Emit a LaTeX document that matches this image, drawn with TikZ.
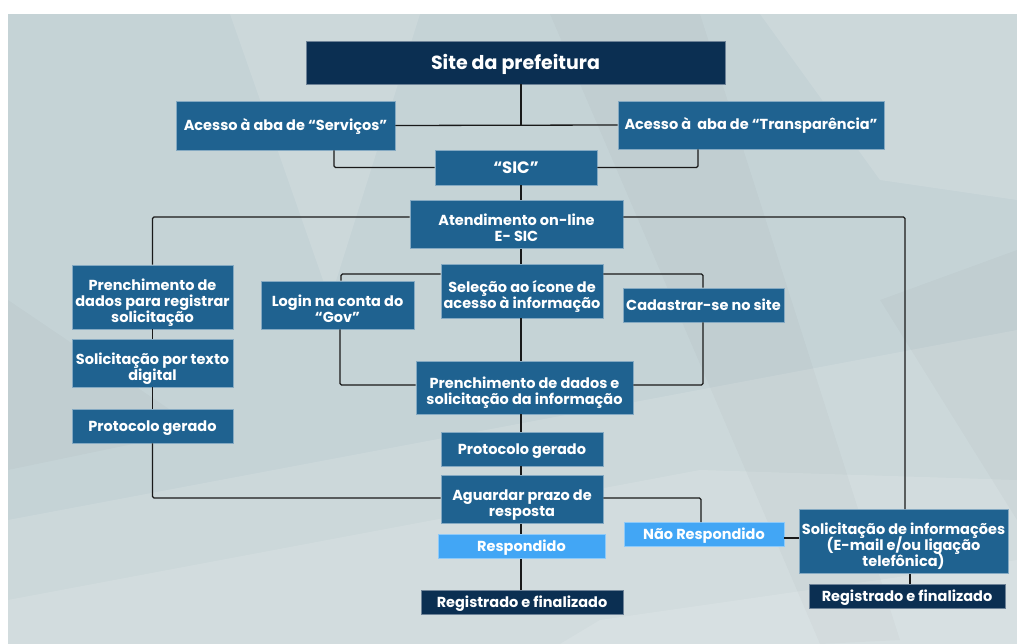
\documentclass[tikz,border=0pt]{standalone}
\usepackage{fontspec}
\setmainfont{Poppins}
\usetikzlibrary{calc}
\definecolor{bgbase}{RGB}{197,211,214}
\definecolor{navy}{RGB}{11,47,82}
\definecolor{midblue}{RGB}{31,98,144}
\definecolor{lightblue}{RGB}{66,166,245}
\definecolor{lncol}{RGB}{25,25,25}
\def\myH{17bp}\def\myD{7bp}
\newcommand\dstrut{\rule[-\myD]{0pt}{\myD}}
\newcommand\hstrut{\rule{0pt}{\myH}}
\begin{document}
\begin{tikzpicture}[x=1bp,y=-1bp,
  box/.style={fill=midblue, draw=midblue!55!white, line width=0.6bp, text=white,
    font=\bfseries\fontsize{14.5bp}{16bp}\selectfont, align=center, inner sep=0pt,
    execute at begin node={\lineskiplimit=-30pt\relax}},
  navybox/.style={box, fill=navy, draw=navy!60!white},
  lightbox/.style={box, fill=lightblue, draw=lightblue!60!white},
  struts/.style 2 args={/utils/exec={\def\myH{#1}\def\myD{#2}}},
  multi/.style={struts={25bp}{7bp}},
  conn/.style={draw=lncol, line width=1.3bp, rounded corners=1.5bp},
  shard/.style={fill=white, opacity=0.12, draw=none}]
% background
\useasboundingbox (0,0) rectangle (1017,644);
\fill[white] (0,0) rectangle (1017,644);
\fill[bgbase] (8,14) rectangle (1017,644);
\begin{scope}
\clip (8,14) rectangle (1017,644);
\fill[shard] (8,520) -- (1017,330) -- (1017,644) -- (8,644) -- cycle;
\fill[shard] (8,600) -- (700,470) -- (1017,480) -- (1017,644) -- (8,644) -- cycle;
\fill[shard] (230,14) -- (420,14) -- (330,300) -- cycle;
\fill[shard] (760,14) -- (1017,14) -- (1017,200) -- (880,180) -- cycle;
\fill[black, opacity=0.02] (550,14) -- (700,14) -- (900,640) -- (820,644) -- cycle;
\fill[black, opacity=0.02] (880,300) -- (1017,250) -- (1017,520) -- cycle;
\fill[black, opacity=0.02] (8,300) -- (200,430) -- (8,470) -- cycle;
\fill[shard] (600,620) -- (1017,560) -- (1017,644) -- (560,644) -- cycle;
\end{scope}
% nodes
\node[navybox, struts={20bp}{6.7bp}, minimum width=419bp, minimum height=43bp, font=\bfseries\fontsize{19bp}{21bp}\selectfont] (site) at (515.5,62.5) {\hstrut Site da prefeitura\dstrut};
\node[box, minimum width=219bp, minimum height=49bp] (serv) at (285.5,125.5) {\hstrut Acesso à aba de “Serviços”\dstrut};
\node[box, minimum width=266bp, minimum height=48bp] (transp) at (751,125) {\hstrut Acesso à \ aba de “Transparência”\dstrut};
\node[box, struts={18bp}{6.5bp}, minimum width=162bp, minimum height=35bp, font=\bfseries\fontsize{16.5bp}{18bp}\selectfont] (sic) at (516,167.5) {\hstrut “SIC”\dstrut};
\node[box, multi, minimum width=213bp, minimum height=39bp] (aten) at (516.5,224.5) {\hstrut Atendimento on-line\\E- SIC\dstrut};
\node[box, multi, minimum width=161bp, minimum height=50bp] (pren1) at (152.5,297) {\hstrut Prenchimento de\\dados para registrar\\solicitação\dstrut};
\node[box, multi, minimum width=153bp, minimum height=34bp] (login) at (337.5,305) {\hstrut Login na conta do\\“Gov”\dstrut};
\node[box, multi, minimum width=162bp, minimum height=54bp] (sel) at (522,291) {\hstrut Seleção ao ícone de\\acesso à informação\dstrut};
\node[box, minimum width=161bp, minimum height=34bp] (cad) at (703.5,305) {\hstrut Cadastrar-se no site\dstrut};
\node[box, multi, minimum width=217bp, minimum height=53bp] (pren2) at (524.5,387.5) {\hstrut Prenchimento de dados e\\solicitação da informação\dstrut};
\node[box, minimum width=162bp, minimum height=34bp] (prot) at (522,449) {\hstrut Protocolo gerado\dstrut};
\node[box, multi, minimum width=161bp, minimum height=34bp] (soltxt) at (152.5,363) {\hstrut Solicitação por texto\\digital\dstrut};
\node[box, minimum width=161bp, minimum height=34bp] (prot1) at (152.5,426) {\hstrut Protocolo gerado\dstrut};
\node[box, multi, minimum width=162bp, minimum height=39bp] (aguard) at (522,499.5) {\hstrut Aguardar prazo de\\resposta\dstrut};
\node[lightbox, minimum width=167bp, minimum height=23bp] (resp) at (521.5,546.5) {\hstrut Respondido\dstrut};
\node[lightbox, minimum width=160bp, minimum height=23bp] (nresp) at (704,534.5) {\hstrut Não Respondido\dstrut};
\node[box, multi, minimum width=209bp, minimum height=49bp] (solinf) at (903.5,541.5) {\hstrut Solicitação de informações\\(E-mail e/ou ligação\\telefônica)\dstrut};
\node[navybox, minimum width=202bp, minimum height=24bp] (reg1) at (522,602) {\hstrut Registrado e finalizado\dstrut};
\node[navybox, minimum width=196bp, minimum height=24bp] (reg2) at (907,596) {\hstrut Registrado e finalizado\dstrut};
% helper coordinates
\coordinate (cx) at (521,0);
\coordinate (hub) at (521,125);
\coordinate (lx) at (152.5,0);
\coordinate (topy) at (0,217);
\coordinate (midy) at (0,498);
% connectors
\path[conn] (site.south -| cx) -- (hub);
\path[conn] (serv.east) -- (transp.west);
\path[conn] (serv.south -| 334,0) |- (sic.west);
\path[conn] (transp.south -| 698,0) |- (sic.east);
\path[conn] (sic.south -| cx) -- (aten.north -| cx);
\path[conn] (aten.west |- topy) -| (pren1.north -| lx);
\path[conn] (aten.east |- topy) -| (solinf.north -| 905,0);
\path[conn] (aten.south -| cx) -- (sel.north -| cx);
\path[conn] (sel.west |- 0,274) -| (login.north -| 341,0);
\path[conn] (sel.east |- 0,274) -| (cad.north -| 703,0);
\path[conn] (login.south -| 340,0) |- (pren2.west |- 0,385);
\path[conn] (cad.south -| 703,0) |- (pren2.east |- 0,385);
\path[conn] (sel.south -| cx) -- (pren2.north -| cx);
\path[conn] (pren2.south -| cx) -- (prot.north -| cx);
\path[conn] (prot.south -| cx) -- (aguard.north -| cx);
\path[conn] (pren1.south -| lx) -- (soltxt.north -| lx);
\path[conn] (soltxt.south -| lx) -- (prot1.north -| lx);
\path[conn] (prot1.south -| lx) |- (aguard.west |- midy);
\path[conn] (aguard.east |- midy) -| (nresp.north -| 701,0);
\path[conn] (aguard.south -| cx) -- (resp.north -| cx);
\path[conn] (resp.south -| cx) -- (reg1.north -| cx);
\path[conn] (nresp.east |- 0,538) -- (solinf.west |- 0,538);
\path[conn] (solinf.south -| 910,0) -- (reg2.north -| 910,0);
\end{tikzpicture}
\end{document}
